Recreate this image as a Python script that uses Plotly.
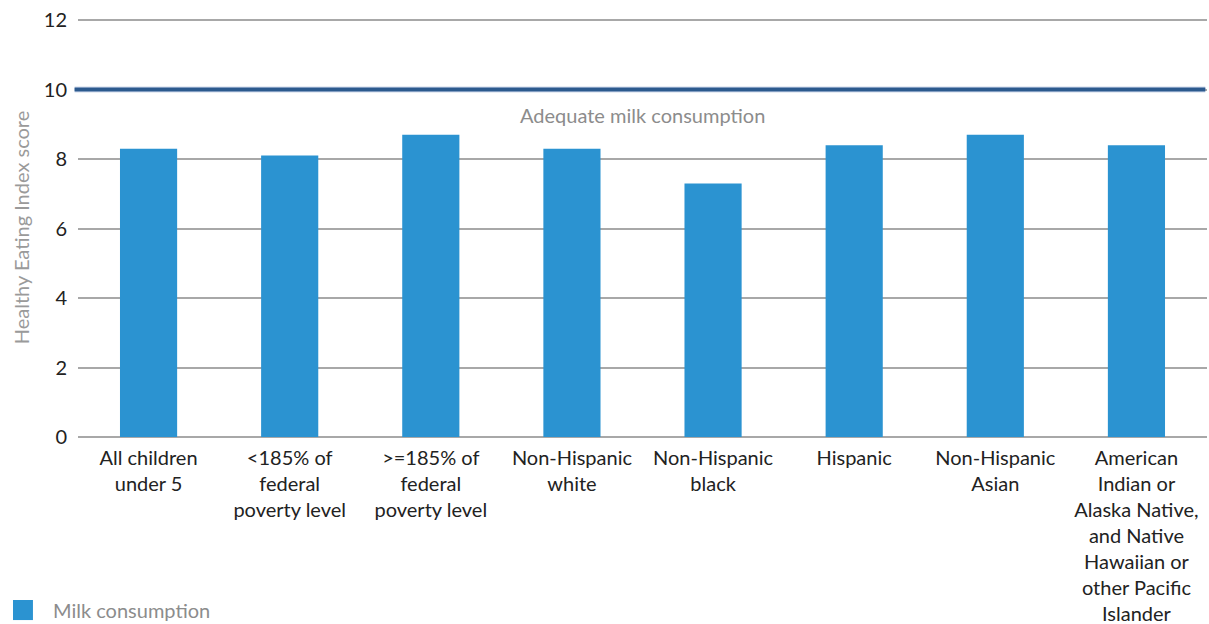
import plotly.graph_objects as go

# Healthy Eating Index milk scores by group
categories = [
    "All children<br>under 5",
    "<185% of<br>federal<br>poverty level",
    ">=185% of<br>federal<br>poverty level",
    "Non-Hispanic<br>white",
    "Non-Hispanic<br>black",
    "Hispanic",
    "Non-Hispanic<br>Asian",
    "American<br>Indian or<br>Alaska Native,<br>and Native<br>Hawaiian or<br>other Pacific<br>Islander",
]
milk_scores = [8.3, 8.1, 8.7, 8.3, 7.3, 8.4, 8.7, 8.4]
adequate_level = 10
y_ticks = [0, 2, 4, 6, 8, 10, 12]

BAR_COLOR = "#2B93D1"
FONT = "Lato, 'Open Sans', sans-serif"
FS = 20

fig = go.Figure()
fig.add_trace(go.Bar(
    x=categories,
    y=milk_scores,
    marker=dict(color=BAR_COLOR, line=dict(width=0)),
    name="Milk consumption",
    showlegend=False,
))

# Adequate consumption reference line (light halo + dark core)
fig.add_shape(type="line", xref="paper", yref="y", x0=-0.003, x1=0.9985,
              y0=adequate_level, y1=adequate_level,
              line=dict(color="#9FB5D2", width=5.5), layer="above")
fig.add_shape(type="line", xref="paper", yref="y", x0=-0.003, x1=0.9985,
              y0=adequate_level, y1=adequate_level,
              line=dict(color="#2C5A8E", width=3.5), layer="above")
fig.add_annotation(text="Adequate milk consumption", xref="paper", yref="y",
                   x=0.5, y=adequate_level - 0.33, yanchor="top",
                   showarrow=False, font=dict(family=FONT, size=FS, color="#8C8C8C"))

# Legend swatch and label
fig.add_shape(type="rect", xref="paper", yref="paper",
              x0=-0.0576, x1=-0.0399, y0=-0.4369, y1=-0.389, line=dict(width=0),
              fillcolor=BAR_COLOR)
fig.add_annotation(text="Milk consumption", xref="paper", yref="paper",
                   x=-0.0235, y=-0.412, xanchor="left", yanchor="middle",
                   showarrow=False, font=dict(family=FONT, size=FS, color="#8C8C8C"))

fig.update_layout(
    width=1209, height=624,
    margin=dict(l=78, r=2, t=17.5, b=186.5),
    paper_bgcolor="white", plot_bgcolor="white",
    bargap=0.595,
    font=dict(family=FONT, size=FS, color="#222222"),
    xaxis=dict(
        tickfont=dict(family=FONT, size=FS, color="#222222"),
        showgrid=False, ticks="", showline=False,
        ticklabelstandoff=7, automargin=False,
    ),
    yaxis=dict(
        range=[0, 12.06], tickvals=y_ticks,
        tickfont=dict(family=FONT, size=FS, color="#222222"),
        showgrid=True, gridcolor="#A8A8A8", gridwidth=1.5,
        zeroline=True, zerolinecolor="#A8A8A8", zerolinewidth=1.5,
        ticks="", ticklabelstandoff=10, automargin=False,
        title=dict(text="Healthy Eating Index score", standoff=8,
                   font=dict(family=FONT, size=FS, color="#9A9A9A")),
    ),
)

fig.write_html("out.html")
